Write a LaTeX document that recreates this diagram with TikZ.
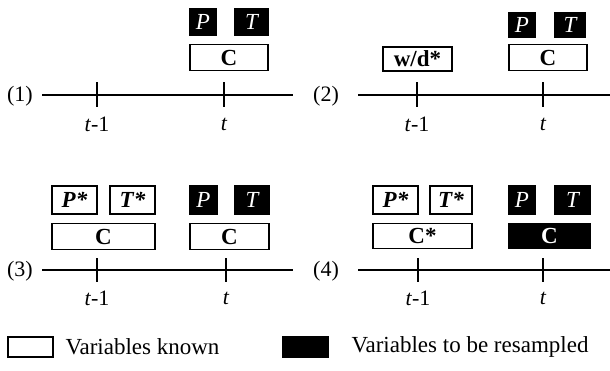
\documentclass[tikz,border=0pt]{standalone}
\usepackage{fontspec}
\setmainfont{Liberation Serif}
\begin{document}
\begin{tikzpicture}[x=1pt,y=-1pt,
  known/.style={draw=black,line width=1.5pt,fill=white,inner sep=0pt,font=\fontsize{23}{23}\selectfont},
  resamp/.style={draw=black,line width=1.5pt,fill=black,text=white,inner sep=0pt,font=\fontsize{23}{23}\selectfont\itshape},
  axis/.style={line width=1.4pt},
  tick/.style={line width=1.4pt},
  lab/.style={font=\fontsize{22}{22}\selectfont},
  leg/.style={font=\fontsize{23}{23}\selectfont},
  tlab/.style={font=\fontsize{22}{22}\selectfont\itshape}]
\useasboundingbox (0,0) rectangle (610,370);
% ---------- panel 1 ----------
\node[lab] (l1) at (20,96) {(1)};
\coordinate (a1s) at (42,95); \coordinate (a1e) at (293,95);
\draw[axis] (a1s) -- (a1e);
\coordinate (k1a) at (97,82); \coordinate (k1b) at (97,107);
\coordinate (k1c) at (224,82); \coordinate (k1d) at (224,107);
\draw[tick] (k1a) -- (k1b); \draw[tick] (k1c) -- (k1d);
\node[tlab] (t1a) at (97,124) {t\textup{-1}};
\node[tlab] (t1b) at (224,124) {t};
\node[resamp,minimum width=26pt,minimum height=27pt] (p1) at (203,22) {P};
\node[resamp,minimum width=33pt,minimum height=27pt] (q1) at (251.5,22) {T};
\node[known,minimum width=78pt,minimum height=26pt] (c1) at (229,57.5) {\bfseries C};
% ---------- panel 2 ----------
\node[lab] (l2) at (326,96) {(2)};
\coordinate (a2s) at (358,95); \coordinate (a2e) at (610,95);
\draw[axis] (a2s) -- (a2e);
\coordinate (k2a) at (417,82); \coordinate (k2b) at (417,107);
\coordinate (k2c) at (543,82); \coordinate (k2d) at (543,107);
\draw[tick] (k2a) -- (k2b); \draw[tick] (k2c) -- (k2d);
\node[tlab] (t2a) at (417,124) {t\textup{-1}};
\node[tlab] (t2b) at (543,124) {t};
\node[known,minimum width=69pt,minimum height=24pt] (w2) at (417.5,59) {\bfseries w/d*};
\node[resamp,minimum width=26pt,minimum height=25pt] (p2) at (522,25) {P};
\node[resamp,minimum width=30pt,minimum height=25pt] (q2) at (570,25) {T};
\node[known,minimum width=78pt,minimum height=26pt] (c2) at (548,57.5) {\bfseries C};
% ---------- panel 3 ----------
\node[lab] (l3) at (20,271) {(3)};
\coordinate (a3s) at (42,270); \coordinate (a3e) at (293,270);
\draw[axis] (a3s) -- (a3e);
\coordinate (k3a) at (97,258); \coordinate (k3b) at (97,282);
\coordinate (k3c) at (226,258); \coordinate (k3d) at (226,282);
\draw[tick] (k3a) -- (k3b); \draw[tick] (k3c) -- (k3d);
\node[tlab] (t3a) at (97,298) {t\textup{-1}};
\node[tlab] (t3b) at (226,298) {t};
\node[known,minimum width=45pt,minimum height=28pt] (p3s) at (74.5,200) {\bfseries\itshape P*};
\node[known,minimum width=45pt,minimum height=28pt] (q3s) at (132.5,200) {\bfseries\itshape T*};
\node[known,minimum width=103pt,minimum height=26pt] (c3a) at (103.5,236.5) {\bfseries C};
\node[resamp,minimum width=27pt,minimum height=28pt] (p3) at (203.5,200) {P};
\node[resamp,minimum width=34pt,minimum height=28pt] (q3) at (252,200) {T};
\node[known,minimum width=79pt,minimum height=26pt] (c3b) at (229.5,236.5) {\bfseries C};
% ---------- panel 4 ----------
\node[lab] (l4) at (326,271) {(4)};
\coordinate (a4s) at (358,270); \coordinate (a4e) at (610,270);
\draw[axis] (a4s) -- (a4e);
\coordinate (k4a) at (418,258); \coordinate (k4b) at (418,282);
\coordinate (k4c) at (543,258); \coordinate (k4d) at (543,282);
\draw[tick] (k4a) -- (k4b); \draw[tick] (k4c) -- (k4d);
\node[tlab] (t4a) at (418,298) {t\textup{-1}};
\node[tlab] (t4b) at (543,298) {t};
\node[known,minimum width=45pt,minimum height=28pt] (p4s) at (395.5,200) {\bfseries\itshape P*};
\node[known,minimum width=42pt,minimum height=28pt] (q4s) at (451,200) {\bfseries\itshape T*};
\node[known,minimum width=99pt,minimum height=25pt] (c4a) at (422.5,236) {\bfseries C*};
\node[resamp,minimum width=26pt,minimum height=28pt] (p4) at (522,200) {P};
\node[resamp,minimum width=35pt,minimum height=28pt] (q4) at (572.5,200) {T};
\node[resamp,minimum width=81pt,minimum height=25pt] (c4b) at (549.5,236) {\upshape\bfseries C};
% ---------- legend ----------
\node[known,minimum width=45pt,minimum height=20pt] (lk) at (30.5,347) {};
\node[leg,anchor=west] (lkt) at (62,347) {Variables known};
\node[resamp,minimum width=45pt,minimum height=20pt] (lr) at (305.5,347) {};
\node[leg,anchor=west] (lrt) at (348,347) {Variables to be resampled};
\end{tikzpicture}
\end{document}
